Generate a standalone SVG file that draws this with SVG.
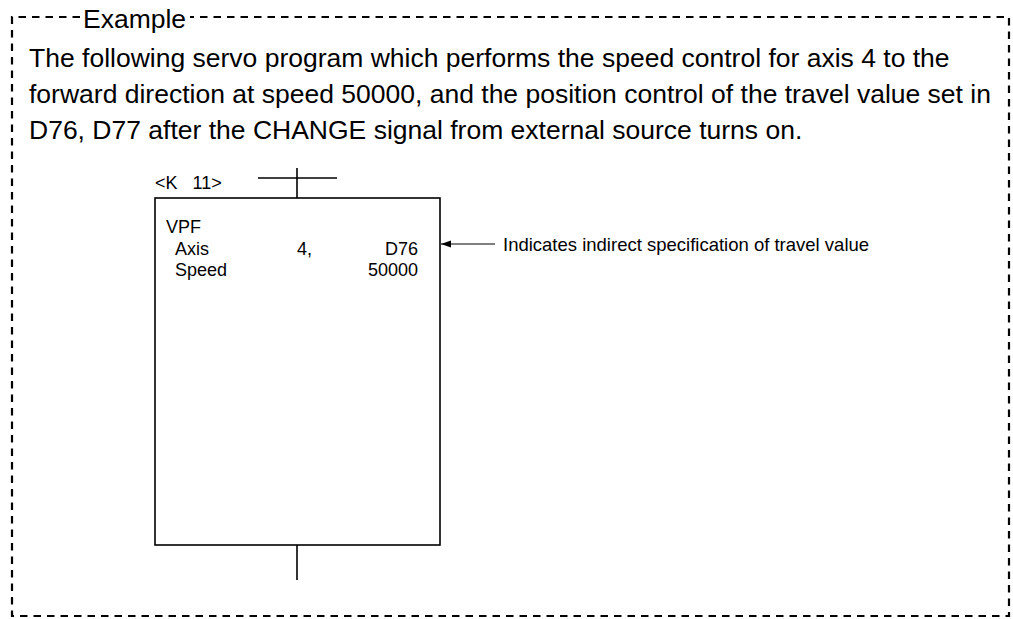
<svg xmlns="http://www.w3.org/2000/svg" width="1013" height="619" viewBox="0 0 1013 619">
<style>
.t{font-family:"Liberation Sans",Arial,sans-serif;fill:#000;white-space:pre}
.big{font-size:26.5px}
.sm{font-size:18px}
.ln{stroke:#000;stroke-width:1.6;fill:none}
</style>
<defs>
<marker id="ah" markerWidth="11" markerHeight="8" refX="10" refY="4" orient="auto" markerUnits="userSpaceOnUse">
<path d="M0,0.5 L10,4 L0,7.5 Z" fill="#000"/>
</marker>
</defs>
<rect width="1013" height="619" fill="#fff"/>
<g id="frame">
<path d="M80,17 H12 V616 H1009 V17 H190" fill="none" stroke="#000" stroke-width="2.2" stroke-dasharray="7.5 6"/>
<text class="t big" x="83" y="28">Example</text>
</g>
<g id="description">
<text class="t big" x="29" y="67">The following servo program which performs the speed control for axis 4 to the</text>
<text class="t big" x="29" y="103">forward direction at speed 50000, and the position control of the travel value set in</text>
<text class="t big" x="29" y="139">D76, D77 after the CHANGE signal from external source turns on.</text>
</g>
<g id="program-box">
<text class="t sm" x="155" y="189" xml:space="preserve">&lt;K   11&gt;</text>
<rect class="ln" x="155" y="198" width="285" height="347"/>
<text class="t sm" x="166" y="233">VPF</text>
<text class="t sm" x="175" y="254.5">Axis</text>
<text class="t sm" x="297" y="254.5">4,</text>
<text class="t sm" x="418" y="254.5" text-anchor="end">D76</text>
<text class="t sm" x="175" y="276">Speed</text>
<text class="t sm" x="418" y="276" text-anchor="end">50000</text>
</g>
<g id="annotation">
<text class="t sm" x="503" y="251" style="font-size:18.5px">Indicates indirect specification of travel value</text>
</g>
<g id="connectors">
<line class="ln" x1="297" y1="168" x2="297" y2="198"/>
<line class="ln" x1="258" y1="178" x2="337" y2="178"/>
<line class="ln" x1="297" y1="545" x2="297" y2="580"/>
<line x1="495" y1="244" x2="441" y2="244" stroke="#000" stroke-width="1" marker-end="url(#ah)"/>
</g>
</svg>
